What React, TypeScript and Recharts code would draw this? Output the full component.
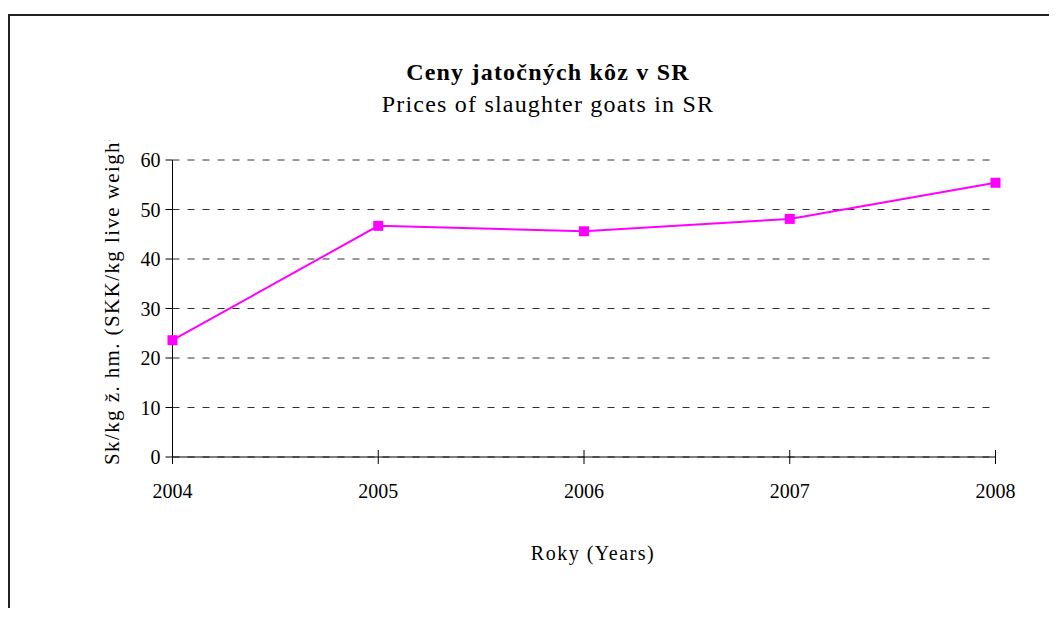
import React from 'react';
import { LineChart, Line, XAxis, YAxis, CartesianGrid, Label } from 'recharts';

// Data
const years = ['2004', '2005', '2006', '2007', '2008'];
const prices = [23.6, 46.7, 45.6, 48.1, 55.4];
const yTicks = [0, 10, 20, 30, 40, 50, 60];

const TITLE = 'Ceny jatočných kôz v SR';
const SUBTITLE = 'Prices of slaughter goats in SR';
const Y_LABEL = 'Sk/kg ž. hm. (SKK/kg live weight)';
const X_LABEL = 'Roky (Years)';

const data = years.map((year, i) => ({ year, price: prices[i] }));

const FONT = "'Liberation Serif', 'Times New Roman', serif";
const W = 1049;
const H = 600;

const SquareDot = (props: any) => {
  const { cx, cy } = props;
  if (cx == null || cy == null) return null;
  return <rect x={cx - 5} y={cy - 5} width={10} height={10} fill="#FF00FF" />;
};

// x ticks cross the axis line, like the original
const XTick = (props: any) => {
  const { x, y, payload } = props;
  const axisY = y - 27;
  return (
    <g>
      <line x1={x} x2={x} y1={axisY - 7} y2={axisY + 7} stroke="#000" strokeWidth={1} />
      <text x={x} y={y} dy="0.71em" textAnchor="middle" fill="#000" fontSize={20} fontFamily={FONT}>
        {payload.value}
      </text>
    </g>
  );
};

// the axis title is longer than the plot, so it gets cut at the top as in the original
const YAxisTitle = (props: any) => {
  const { viewBox } = props;
  const x = viewBox.x + 39;
  const y = 457;
  return (
    <g>
      <defs>
        <clipPath id="yTitleClip">
          <rect x={x - 20} y={132} width={40} height={400} />
        </clipPath>
      </defs>
      <g clipPath="url(#yTitleClip)">
        <text
          x={x}
          y={y}
          dy="0.35em"
          transform={`rotate(-90 ${x} ${y})`}
          textAnchor="start"
          fill="#000"
          fontSize={21}
          letterSpacing={1.4}
          fontFamily={FONT}
        >
          {Y_LABEL}
        </text>
      </g>
    </g>
  );
};

export default function App() {
  return (
    <div style={{ position: 'relative', width: W, height: H, overflow: 'hidden' }}>
      <div
        style={{
          position: 'absolute',
          left: 0,
          top: 6,
          width: W + 10,
          height: H,
          borderLeft: '2px solid #222',
          borderTop: '2px solid #222',
        }}
      />
      <div style={{ position: 'absolute', left: 0, top: 0 }}>
        <LineChart width={W} height={H} data={data} margin={{ top: 152, right: 61.5, left: 64.5, bottom: 41 }}>
          <text
            x={540}
            y={64}
            dy="0.35em"
            textAnchor="middle"
            fontSize={24}
            fontWeight="bold"
            letterSpacing={1.2}
            fontFamily={FONT}
            fill="#000"
          >
            {TITLE}
          </text>
          <text
            x={540}
            y={96}
            dy="0.35em"
            textAnchor="middle"
            fontSize={24}
            letterSpacing={1.2}
            fontFamily={FONT}
            fill="#000"
          >
            {SUBTITLE}
          </text>
          <CartesianGrid vertical={false} stroke="#333" strokeDasharray="7 8" />
          <XAxis
            dataKey="year"
            height={110}
            stroke="#000"
            tickLine={false}
            tickSize={7}
            tickMargin={20}
            tick={<XTick />}
            interval={0}
          >
            <Label
              value={X_LABEL}
              position="insideBottom"
              offset={7}
              dx={9}
              fill="#000"
              fontSize={20}
              letterSpacing={1.5}
              fontFamily={FONT}
            />
          </XAxis>
          <YAxis
            width={100}
            domain={[0, 60]}
            ticks={yTicks}
            stroke="#000"
            tickSize={7}
            tickMargin={5}
            tick={{ fill: '#000', fontSize: 20, fontFamily: FONT }}
            interval={0}
          >
            <Label content={<YAxisTitle />} />
          </YAxis>
          <Line
            type="linear"
            dataKey="price"
            stroke="#FF00FF"
            strokeWidth={2}
            dot={<SquareDot />}
            activeDot={false}
            isAnimationActive={false}
          />
        </LineChart>
      </div>
    </div>
  );
}
